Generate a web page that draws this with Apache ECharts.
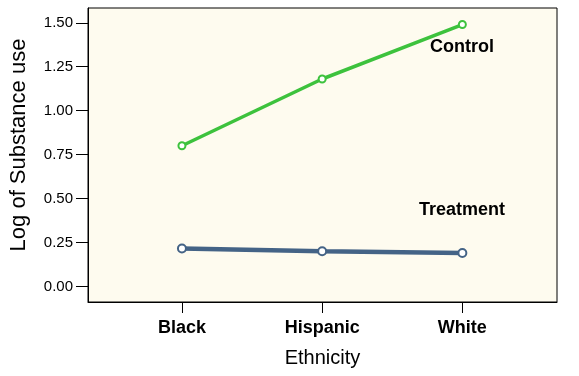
<!DOCTYPE html>
<html>
<head>
<meta charset="utf-8">
<script src="https://cdn.jsdelivr.net/npm/echarts@6/dist/echarts.min.js"></script>
<style>
  html, body { margin: 0; padding: 0; background: #fff; }
  #chart { width: 579px; height: 376px; }
</style>
</head>
<body>
<div id="chart"></div>
<script>
// 数据
const categories = ['Black', 'Hispanic', 'White'];
const controlValues = [0.80, 1.18, 1.49];
const treatmentValues = [0.215, 0.20, 0.19];
const yTicks = [0, 0.25, 0.5, 0.75, 1.0, 1.25, 1.5];

const toPairs = vals => vals.map((v, i) => [i, v]);

let myChart = echarts.init(document.getElementById('chart'));
let option = {
    animation: false,
    grid: {
        left: 88, right: 22, top: 8, bottom: 74,
        outerBoundsMode: 'none',
        containLabel: false,
        show: true,
        backgroundColor: '#FEFBEF',
        borderColor: '#000',
        borderWidth: 1
    },
    xAxis: {
        type: 'value',
        min: -0.67,
        max: 2.675,
        name: 'Ethnicity',
        nameLocation: 'middle',
        nameGap: 46,
        nameTextStyle: { fontFamily: 'Liberation Sans', fontSize: 20, color: '#000' },
        axisLine: { show: true, onZero: false, lineStyle: { color: '#000' } },
        axisTick: { show: true, length: 11, inside: false, customValues: [0, 1, 2], lineStyle: { color: '#000' } },
        axisLabel: {
            customValues: [0, 1, 2],
            formatter: v => categories[Math.round(v)] || '',
            fontFamily: 'Liberation Sans', fontWeight: 'bold', fontSize: 18, color: '#000', margin: 17
        },
        splitLine: { show: false }
    },
    yAxis: {
        type: 'value',
        min: -0.089,
        max: 1.584,
        name: 'Log of Substance use',
        nameLocation: 'middle',
        nameGap: 58,
        nameTextStyle: { fontFamily: 'Liberation Sans', fontSize: 22, color: '#000', padding: [0, 0, 0, 20] },
        axisLine: { show: true, onZero: false, lineStyle: { color: '#000' } },
        axisTick: { show: true, length: 12, customValues: yTicks, lineStyle: { color: '#000' } },
        axisLabel: {
            customValues: yTicks,
            formatter: v => v.toFixed(2),
            fontFamily: 'Liberation Sans', fontSize: 15, color: '#000', margin: 15
        },
        splitLine: { show: false }
    },
    series: [
        {
            name: 'Control',
            type: 'line',
            data: toPairs(controlValues),
            symbol: 'emptyCircle',
            symbolSize: 7,
            lineStyle: { color: '#3DC23D', width: 3.5 },
            itemStyle: { color: '#3DC23D', borderWidth: 1 }
        },
        {
            name: 'Treatment',
            type: 'line',
            data: toPairs(treatmentValues),
            symbol: 'emptyCircle',
            symbolSize: 8,
            lineStyle: { color: '#446386', width: 4.5 },
            itemStyle: { color: '#446386', borderWidth: 1 }
        }
    ],
    graphic: [
        {
            type: 'text', x: 430, y: 47,
            style: { text: 'Control', font: 'bold 18px "Liberation Sans"', fill: '#000', verticalAlign: 'middle' }
        },
        {
            type: 'text', x: 419, y: 210,
            style: { text: 'Treatment', font: 'bold 18px "Liberation Sans"', fill: '#000', verticalAlign: 'middle' }
        }
    ]
};
myChart.setOption(option);
</script>
</body>
</html>
